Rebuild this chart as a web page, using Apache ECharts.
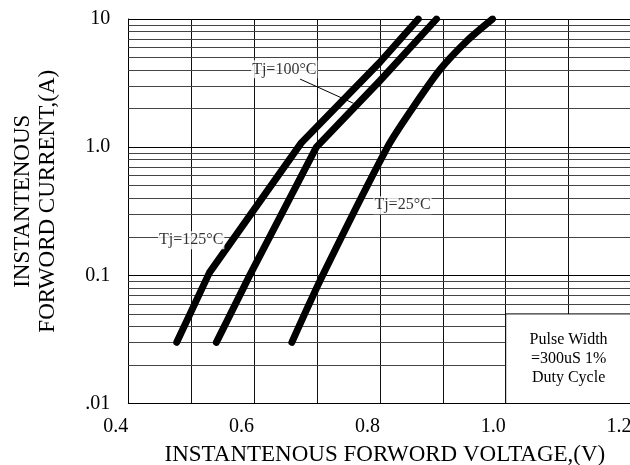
<!DOCTYPE html>
<html><head><meta charset="utf-8">
<script src="https://cdn.jsdelivr.net/npm/echarts@6/dist/echarts.min.js"></script>
<style>html,body{margin:0;padding:0;background:#fff}#c{width:630px;height:465px}</style>
</head><body><div id="c"></div>
<script>
// ---- data ----
const seriesNames = ['Tj=125°C', 'Tj=100°C', 'Tj=25°C'];
const voltage125 = [0.477, 0.529, 0.675, 0.800, 0.861];
const current125 = [0.03, 0.105, 1.08, 4.6, 10];
const voltage100 = [0.540, 0.593, 0.699, 0.800, 0.890];
const current100 = [0.03, 0.10, 1.0, 3.3, 10];
const voltage25 = [0.660, 0.709, 0.812, 0.850, 0.896, 0.939, 0.979];
const current25 = [0.03, 0.10, 1.0, 1.95, 4.05, 6.8, 10];

const xTickValues = [0.4, 0.6, 0.8, 1.0, 1.2];
const xTickLabels = ['0.4', '0.6', '0.8', '1.0', '1.2'];
const yTickValues = [0.01, 0.1, 1, 10];
const yTickLabels = ['.01', '0.1', '1.0', '10'];
const minorCurrentLines = [0.02, 0.03, 0.04, 0.05, 0.06, 0.07, 0.08, 0.09,
  0.2, 0.3, 0.4, 0.5, 0.6, 0.7, 0.8, 0.9, 2, 3, 4, 5, 6, 7, 8, 9];

const labelNames = ['Tj=100°C', 'Tj=25°C', 'Tj=125°C'];
const labelVoltage = [0.648, 0.836, 0.500];
const labelCurrent = [4.05, 0.352, 0.188];
const leaderVoltage = [0.673, 0.758];
const leaderCurrent = [3.4, 2.2];
const noteText = ['Pulse Width', '=300uS 1%', 'Duty Cycle'];
const noteVoltage = [1.0, 1.2];
const noteCurrent = [0.01, 0.05];

const xAxisName = 'INSTANTENOUS FORWORD VOLTAGE,(V)';
const yAxisName = 'INSTANTENOUS\nFORWORD CURRENT,(A)';

// ---- chart ----
const FONT = 'Liberation Serif';
const zip = (a, b) => a.map((v, i) => [v, b[i]]);
const chart = echarts.init(document.getElementById('c'), null, {renderer: 'canvas'});

const curveSeries = [[voltage125, current125], [voltage100, current100], [voltage25, current25]].map((d, k) => ({
  name: seriesNames[k], type: 'line', data: zip(d[0], d[1]), symbol: 'none', z: 5,
  smooth: k === 2 ? 0.25 : false,
  lineStyle: {color: '#000', width: 7, cap: 'round', join: 'round'}, silent: true
}));

chart.setOption({
  animation: false,
  backgroundColor: '#fff',
  grid: {left: 128.3, top: 19, width: 503.2, height: 384.5, outerBoundsMode: 'none', containLabel: false},
  xAxis: {
    type: 'value', min: 0.4, max: 1.2, interval: 0.1,
    axisLine: {show: true, lineStyle: {color: '#000', width: 1}},
    axisTick: {show: false},
    splitLine: {show: true, lineStyle: {color: '#111', width: 1}},
    axisLabel: {
      fontFamily: FONT, fontSize: 20, color: '#000', margin: 13, align: 'right', showMaxLabel: true,
      formatter: v => { const i = xTickValues.findIndex(t => Math.abs(t - v) < 1e-6); return i >= 0 ? xTickLabels[i] : ''; }
    },
    name: xAxisName, nameLocation: 'middle', nameGap: 40,
    nameTextStyle: {fontFamily: FONT, fontSize: 23, color: '#000', padding: [0, 0, 0, 10]}
  },
  yAxis: {
    type: 'log', logBase: 10, min: 0.01, max: 10,
    axisLine: {show: true, lineStyle: {color: '#000', width: 1}},
    axisTick: {show: false},
    splitLine: {show: true, lineStyle: {color: '#000', width: 1}},
    axisLabel: {
      fontFamily: FONT, fontSize: 20, color: '#000', margin: 18, padding: [7, 0, 0, 0],
      formatter: v => { const i = yTickValues.findIndex(t => Math.abs(Math.log10(t) - Math.log10(v)) < 1e-6); return i >= 0 ? yTickLabels[i] : ''; }
    },
    name: yAxisName, nameLocation: 'middle', nameRotate: 90, nameGap: 68,
    nameTextStyle: {fontFamily: FONT, fontSize: 23, color: '#000', lineHeight: 25, padding: [0, 0, 0, 20]}
  },
  series: [
    {
      type: 'line', data: [], silent: true, z: 1,
      markLine: {
        silent: true, symbol: 'none', z: 1, label: {show: false},
        lineStyle: {color: '#444', width: 1, type: 'solid'},
        data: minorCurrentLines.map(v => ({yAxis: v}))
      }
    },
    {
      type: 'line', data: [], silent: true, z: 2,
      markArea: {
        silent: true, z: 2,
        itemStyle: {color: '#fff', borderColor: '#000', borderWidth: 1},
        label: {show: true, position: 'inside', formatter: noteText.join('\n'),
          fontFamily: FONT, fontSize: 16, lineHeight: 19, color: '#000'},
        data: [[{coord: [noteVoltage[0], noteCurrent[0]]}, {coord: [noteVoltage[1], noteCurrent[1]]}]]
      }
    },
    ...curveSeries,
    {
      type: 'line', data: zip(leaderVoltage, leaderCurrent), symbol: 'none', z: 6, silent: true,
      lineStyle: {color: '#000', width: 1}
    },
    {
      type: 'scatter', z: 10, silent: true, symbolSize: 1, itemStyle: {color: 'rgba(0,0,0,0)'},
      data: labelNames.map((n, i) => [labelVoltage[i], labelCurrent[i], n]),
      label: {show: true, position: 'inside', formatter: p => p.value[2],
        fontFamily: FONT, fontSize: 16, color: '#000', backgroundColor: '#fff', padding: [1, 1]}
    }
  ]
});
</script></body></html>
